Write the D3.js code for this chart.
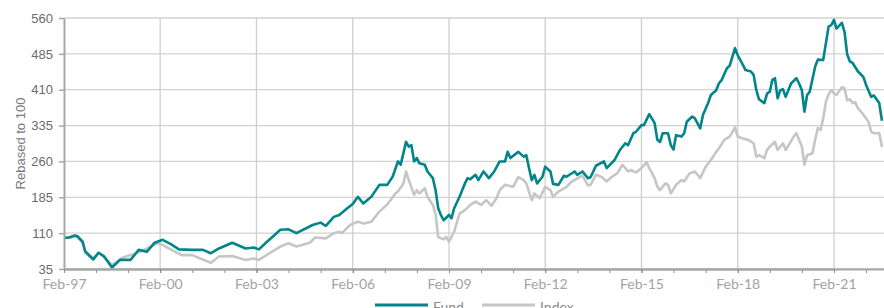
<!DOCTYPE html>
<html>
<head>
<meta charset="utf-8">
<script src="https://cdn.jsdelivr.net/npm/d3@7"></script>
<style>
  body { margin: 0; background: #fff; }
  svg { display: block; }
</style>
</head>
<body>
<svg id="chart" width="884" height="308"></svg>
<script>
// values (rebased to 100 at Feb-97)
var fundDates = ['1997-02', '1997-04', '1997-06', '1997-07', '1997-09', '1997-10', '1998-01', '1998-03', '1998-05', '1998-08',
  '1998-11', '1999-03', '1999-05', '1999-06', '1999-09', '1999-12', '2000-03', '2000-06', '2000-09', '2001-02',
  '2001-06', '2001-09', '2001-12', '2002-05', '2002-10', '2003-01', '2003-03', '2003-06', '2003-11', '2004-02',
  '2004-05', '2004-11', '2005-02', '2005-04', '2005-07', '2005-09', '2005-12', '2006-02', '2006-04', '2006-06',
  '2006-09', '2006-12', '2007-03', '2007-05', '2007-07', '2007-08', '2007-10', '2007-11', '2007-12', '2008-01',
  '2008-02', '2008-03', '2008-05', '2008-06', '2008-08', '2008-09', '2008-10', '2008-11', '2008-12', '2009-02',
  '2009-03', '2009-04', '2009-06', '2009-08', '2009-09', '2009-10', '2009-12', '2010-01', '2010-03', '2010-05',
  '2010-07', '2010-09', '2010-11', '2010-12', '2011-01', '2011-04', '2011-06', '2011-07', '2011-08', '2011-09',
  '2011-10', '2011-11', '2012-01', '2012-02', '2012-04', '2012-05', '2012-07', '2012-09', '2012-10', '2013-01',
  '2013-02', '2013-04', '2013-06', '2013-07', '2013-09', '2013-12', '2014-01', '2014-04', '2014-06', '2014-08',
  '2014-09', '2014-11', '2014-12', '2015-02', '2015-03', '2015-05', '2015-07', '2015-08', '2015-09', '2015-10',
  '2015-12', '2016-01', '2016-02', '2016-03', '2016-05', '2016-06', '2016-07', '2016-09', '2016-10', '2016-12',
  '2017-01', '2017-03', '2017-04', '2017-06', '2017-07', '2017-08', '2017-10', '2017-11', '2018-01', '2018-02',
  '2018-04', '2018-05', '2018-07', '2018-08', '2018-09', '2018-10', '2018-12', '2019-01', '2019-02', '2019-03',
  '2019-04', '2019-05', '2019-06', '2019-07', '2019-08', '2019-10', '2019-12', '2020-01', '2020-02', '2020-03',
  '2020-04', '2020-05', '2020-07', '2020-08', '2020-10', '2020-12', '2021-01', '2021-02', '2021-03', '2021-05',
  '2021-06', '2021-07', '2021-08', '2021-09', '2021-11', '2022-01', '2022-02', '2022-04', '2022-05', '2022-07',
  '2022-08']
var fundValues = [100, 101, 105, 104, 92, 71, 55, 69, 62, 38,
  54, 54, 68, 75, 71, 90, 96, 87, 76, 75,
  75, 68, 78, 90, 78, 80, 76, 92, 117, 118,
  110, 127, 132, 125, 144, 148, 162, 171, 186, 172,
  186, 211, 211, 228, 260, 253, 301, 291, 294, 260,
  267, 256, 253, 239, 225, 200, 162, 148, 137, 148,
  141, 162, 186, 214, 225, 223, 232, 221, 239, 225,
  239, 260, 260, 280, 267, 280, 270, 273, 246, 221,
  232, 214, 228, 249, 239, 213, 211, 230, 228, 239,
  232, 239, 225, 227, 251, 260, 246, 263, 284, 298,
  294, 319, 322, 336, 336, 359, 340, 305, 301, 319,
  319, 294, 285, 315, 312, 319, 343, 354, 350, 329,
  357, 382, 399, 409, 423, 430, 455, 460, 497, 482,
  462, 451, 448, 441, 409, 390, 382, 402, 406, 430,
  434, 392, 409, 411, 395, 423, 434, 423, 409, 364,
  399, 406, 458, 473, 472, 542, 545, 556, 538, 550,
  531, 484, 469, 466, 448, 437, 420, 395, 398, 382,
  345]

var indexDates = ['1997-02', '1997-07', '1997-09', '1997-10', '1998-01', '1998-03', '1998-05', '1998-08', '1998-12', '1999-04',
  '1999-08', '2000-01', '2000-03', '2000-06', '2000-10', '2001-02', '2001-05', '2001-09', '2001-12', '2002-05',
  '2002-10', '2003-01', '2003-03', '2003-07', '2003-11', '2004-02', '2004-05', '2004-10', '2004-12', '2005-04',
  '2005-07', '2005-09', '2005-10', '2006-01', '2006-04', '2006-06', '2006-09', '2006-12', '2007-03', '2007-05',
  '2007-06', '2007-07', '2007-09', '2007-10', '2007-11', '2008-01', '2008-02', '2008-03', '2008-05', '2008-06',
  '2008-08', '2008-09', '2008-10', '2008-12', '2009-01', '2009-02', '2009-04', '2009-06', '2009-08', '2009-10',
  '2009-12', '2010-02', '2010-04', '2010-06', '2010-08', '2010-09', '2010-11', '2011-02', '2011-04', '2011-06',
  '2011-07', '2011-09', '2011-10', '2011-12', '2012-02', '2012-04', '2012-05', '2012-07', '2012-10', '2012-12',
  '2013-03', '2013-04', '2013-06', '2013-07', '2013-09', '2013-11', '2014-01', '2014-03', '2014-05', '2014-07',
  '2014-09', '2014-10', '2014-12', '2015-02', '2015-04', '2015-05', '2015-07', '2015-08', '2015-09', '2015-11',
  '2015-12', '2016-01', '2016-03', '2016-05', '2016-06', '2016-08', '2016-10', '2016-12', '2017-02', '2017-04',
  '2017-06', '2017-07', '2017-09', '2017-11', '2018-01', '2018-02', '2018-04', '2018-06', '2018-08', '2018-09',
  '2018-10', '2018-12', '2019-01', '2019-02', '2019-04', '2019-05', '2019-07', '2019-08', '2019-11', '2019-12',
  '2020-02', '2020-03', '2020-04', '2020-06', '2020-07', '2020-08', '2020-09', '2020-10', '2020-11', '2020-12',
  '2021-01', '2021-02', '2021-03', '2021-05', '2021-06', '2021-07', '2021-08', '2021-09', '2021-10', '2021-11',
  '2021-12', '2022-01', '2022-03', '2022-04', '2022-05', '2022-07', '2022-08']
var indexValues = [100, 103, 90, 73, 58, 69, 60, 43, 59, 66,
  75, 89, 85, 76, 64, 64, 57, 48, 61, 62,
  54, 57, 54, 68, 82, 89, 82, 90, 101, 99,
  110, 113, 110, 127, 134, 130, 134, 155, 170, 185,
  193, 197, 214, 239, 221, 190, 200, 193, 204, 186,
  169, 150, 102, 97, 102, 92, 113, 151, 158, 169,
  176, 169, 179, 167, 185, 200, 211, 207, 227, 221,
  214, 179, 193, 183, 207, 200, 186, 197, 207, 218,
  227, 230, 210, 211, 232, 228, 218, 228, 235, 253,
  239, 242, 237, 246, 258, 246, 225, 207, 200, 214,
  211, 193, 211, 221, 218, 235, 239, 225, 249, 263,
  280, 287, 305, 312, 331, 312, 308, 305, 298, 270,
  273, 267, 284, 291, 301, 284, 298, 284, 312, 319,
  291, 253, 273, 277, 305, 330, 326, 350, 385, 400,
  409, 402, 399, 415, 413, 388, 390, 382, 384, 371,
  365, 358, 343, 322, 319, 319, 290]

var yTicks = [35, 110, 185, 260, 335, 410, 485, 560]
var xTickDates = ['1997-02', '2000-02', '2003-02', '2006-02', '2009-02', '2012-02', '2015-02', '2018-02', '2021-02']
var seriesNames = ['Fund', 'Index']
var seriesColors = ['#00868a', '#c6c6c6']
var yTitle = 'Rebased to 100'

;(function () {
  var width = 884
  var height = 308
  var margin = {top: 18, bottom: 39, left: 64, right: 0}

  var parse = d3.timeParse('%Y-%m')
  var fmt = d3.timeFormat('%b-%y')

  var svg = d3.select('#chart')
  var innerw = width - margin.left - margin.right
  var innerh = height - margin.top - margin.bottom

  /*
      --------------------------------------
      Scales
  */
  // Feb-97 sits on the y axis, Feb-21 on the last labelled gridline
  var mapx = d3.scaleTime()
      .domain([parse('1997-02'), parse('2021-02')])
      .range([0, 770])

  var mapy = d3.scaleLinear()
      .domain([35, 560])
      .range([innerh, 0])

  var g = svg.append('g')
      .attr('transform', `translate(${margin.left},${margin.top})`)

  /*
      --------------------------------------
      Grid
  */
  g.append('g').classed('grid y', true)
    .selectAll('line')
    .data(yTicks)
    .enter().append('line')
      .attr('x1', 0)
      .attr('x2', innerw)
      .attr('y1', d => mapy(d))
      .attr('y2', d => mapy(d))
      .style('stroke', '#d2d2d2')
      .style('stroke-width', 1.3)

  g.append('g').classed('grid x', true)
    .selectAll('line')
    .data(xTickDates.slice(1))
    .enter().append('line')
      .attr('x1', d => mapx(parse(d)))
      .attr('x2', d => mapx(parse(d)))
      .attr('y1', 0)
      .attr('y2', innerh)
      .style('stroke', '#cfcfcf')
      .style('stroke-width', 1.3)

  /*
      --------------------------------------
      Lines
  */
  var line = d3.line()
      .x(d => mapx(d.date))
      .y(d => mapy(d.value))

  var series = [
    {name: seriesNames[1], color: seriesColors[1], data: indexDates.map((d, i) => ({date: parse(d), value: indexValues[i]}))},
    {name: seriesNames[0], color: seriesColors[0], data: fundDates.map((d, i) => ({date: parse(d), value: fundValues[i]}))}
  ]

  g.append('g').classed('lines', true)
    .selectAll('path')
    .data(series)
    .enter().append('path')
      .attr('d', d => line(d.data))
      .style('fill', 'none')
      .style('stroke', d => d.color)
      .style('stroke-width', 2.6)
      .style('stroke-linejoin', 'round')

  /*
      --------------------------------------
      Axis X
  */
  var majors = xTickDates.map(parse)
  var minors = d3.timeMonths(parse('1997-02'), parse('2023-01'), 12)

  g.append('g').classed('ax x minor', true)
      .attr('transform', `translate(0,${innerh})`)
      .call(d3.axisBottom(mapx).tickValues(minors).tickFormat('').tickSize(4).tickSizeOuter(0))

  var xAx = g.append('g').classed('ax x', true)
      .attr('transform', `translate(0,${innerh})`)
      .call(d3.axisBottom(mapx).tickValues(majors).tickFormat(fmt).tickSize(4).tickPadding(6).tickSizeOuter(0))

  xAx.select('.domain').attr('d', `M0,0.5H${innerw}`)

  svg.selectAll('.ax.x .domain')
      .style('stroke', '#a6a6a6')
      .style('stroke-width', 2)
  svg.selectAll('.ax.x .tick line')
      .style('stroke', '#8c8c8c')
  xAx.selectAll('text')
      .style('font-family', 'Lato, sans-serif')
      .style('font-size', '14px')
      .style('fill', '#a3a3a3')

  /*
      --------------------------------------
      Axis Y
  */
  var yAx = g.append('g').classed('ax y', true)
      .call(d3.axisLeft(mapy).tickValues(yTicks).tickSize(5).tickPadding(6).tickSizeOuter(0))

  yAx.select('.domain')
      .style('stroke', '#a6a6a6')
      .style('stroke-width', 2)
  yAx.selectAll('.tick line')
      .style('stroke', '#a6a6a6')
      .style('stroke-width', 1.5)
  yAx.selectAll('text')
      .style('font-family', '"Liberation Sans", Arial, sans-serif')
      .style('font-size', '13px')
      .style('fill', '#6b6b6b')

  svg.append('text')
      .attr('transform', `translate(20,${margin.top + innerh / 2}) rotate(-90)`)
      .attr('text-anchor', 'middle')
      .attr('dy', '0.35em')
      .style('font-family', '"Liberation Sans", Arial, sans-serif')
      .style('font-size', '13px')
      .style('fill', '#7a7a7a')
      .text(yTitle)

  /*
      --------------------------------------
      Legend
  */
  var legend = svg.append('g').classed('legend', true)
      .attr('transform', 'translate(375,305)')

  var items = legend.selectAll('g')
      .data(seriesNames)
      .enter().append('g')
      .attr('transform', (d, i) => `translate(${i * 107},0)`)

  items.append('line')
      .attr('x1', 0)
      .attr('x2', 53)
      .style('stroke', (d, i) => seriesColors[i])
      .style('stroke-width', 3)

  items.append('text')
      .attr('x', 58)
      .attr('y', 7)
      .style('font-family', 'Lato, sans-serif')
      .style('font-size', '14px')
      .style('fill', '#8a8a8a')
      .text(d => d)
})()
</script>
</body>
</html>
